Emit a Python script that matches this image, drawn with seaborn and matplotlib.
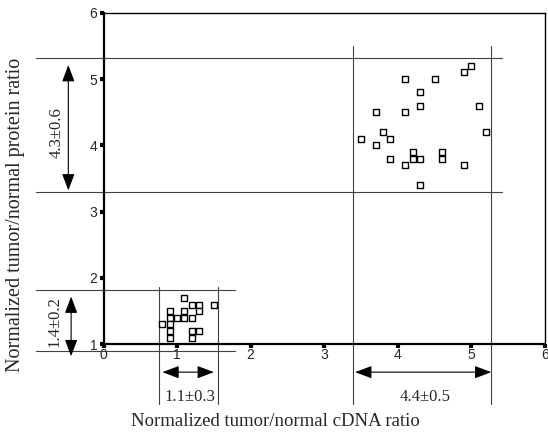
import matplotlib
matplotlib.use("Agg")
import matplotlib.pyplot as plt
import seaborn as sns
import pandas as pd

# ---- data ----
low_x = [1.1, 1.2, 1.3, 1.5, 0.9, 1.1, 1.3, 0.9, 1.0, 1.1, 1.2, 0.8, 0.9, 0.9, 1.2, 1.3, 0.9, 1.2]
low_y = [1.7, 1.6, 1.6, 1.6, 1.5, 1.5, 1.5, 1.4, 1.4, 1.4, 1.4, 1.3, 1.3, 1.2, 1.2, 1.2, 1.1, 1.1]
high_x = [5.0, 4.9, 4.1, 4.5, 4.3, 4.3, 5.1, 3.7, 4.1, 3.8, 5.2, 3.5, 3.9, 3.7, 4.2, 4.6,
          3.9, 4.2, 4.3, 4.6, 4.1, 4.9, 4.3]
high_y = [5.2, 5.1, 5.0, 5.0, 4.8, 4.6, 4.6, 4.5, 4.5, 4.2, 4.2, 4.1, 4.1, 4.0, 3.9, 3.9,
          3.8, 3.8, 3.8, 3.8, 3.7, 3.7, 3.4]

x_ticks = [0, 1, 2, 3, 4, 5, 6]
y_ticks = [1, 2, 3, 4, 5, 6]

# range guide lines (data units)
high_h_lines = [5.32, 3.30]
low_h_lines = [1.82, 0.90]
low_v_lines = [0.76, 1.55]
high_v_lines = [3.39, 5.26]

labels_text = ["4.3\u00b10.6", "1.4\u00b10.2", "1.1\u00b10.3", "4.4\u00b10.5"]

df = pd.DataFrame({"x": low_x + high_x, "y": low_y + high_y})

sns.set_style("white")
plt.rcParams["font.family"] = ["Liberation Sans", "DejaVu Sans"]

fig = plt.figure(figsize=(5.48, 4.32), dpi=100)
ax = fig.add_axes([0.18887, 0.20301, 0.80566, 0.76759])

sns.scatterplot(data=df, x="x", y="y", marker="s", s=18, facecolor="white",
                edgecolor="black", linewidth=1.0, ax=ax, zorder=5)

ax.set_xlim(0, 6)
ax.set_ylim(1, 6)
ax.set_xticks(x_ticks)
ax.set_yticks(y_ticks)
ax.set_xticklabels([str(v) for v in x_ticks])
ax.set_yticklabels([str(v) for v in y_ticks])
ax.set_xlabel("")
ax.set_ylabel("")
ax.tick_params(axis="both", direction="out", length=3, width=3, color="black",
               labelsize=10, bottom=True, left=True)
ax.tick_params(axis="x", pad=0)
ax.tick_params(axis="y", pad=1.5)

for side in ["left", "bottom"]:
    ax.spines[side].set_linewidth(1.6)
    ax.spines[side].set_color("black")
for side in ["top", "right"]:
    ax.spines[side].set_visible(True)
    ax.spines[side].set_linewidth(1.0)
    ax.spines[side].set_color("black")

lc = "#404040"
for yv in high_h_lines:
    ax.plot([-0.92, 5.41], [yv, yv], color=lc, lw=0.8, clip_on=False, zorder=2)
for yv in low_h_lines:
    ax.plot([-0.92, 1.79], [yv, yv], color=lc, lw=0.8, clip_on=False, zorder=2)
for xv in low_v_lines:
    ax.plot([xv, xv], [0.10, 1.86], color=lc, lw=0.8, clip_on=False, zorder=2)
for xv in high_v_lines:
    ax.plot([xv, xv], [0.10, 5.50], color=lc, lw=0.8, clip_on=False, zorder=2)

aprops = dict(arrowstyle="<|-|>,head_length=0.85,head_width=0.32", mutation_scale=12,
              lw=0.8, color="black", shrinkA=0, shrinkB=0)
for (x0, y0), (x1, y1) in [((-0.478, 5.21), (-0.478, 3.32)),
                           ((-0.44, 1.72), (-0.44, 0.82)),
                           ((0.80, 0.58), (1.50, 0.58)),
                           ((3.42, 0.58), (5.27, 0.58))]:
    ax.annotate("", xy=(x1, y1), xytext=(x0, y0), arrowprops=aprops,
                annotation_clip=False)

serif = ["Liberation Serif", "DejaVu Serif"]
ax.text(-0.636, 4.19, labels_text[0], rotation=90, ha="center", va="center",
        fontsize=12, family=serif, clip_on=False)
ax.text(-0.668, 1.35, labels_text[1], rotation=90, ha="center", va="center",
        fontsize=12, family=serif, clip_on=False)
ax.text(1.18, 0.21, labels_text[2], ha="center", va="center",
        fontsize=12, family=serif, clip_on=False)
ax.text(4.37, 0.21, labels_text[3], ha="center", va="center",
        fontsize=12, family=serif, clip_on=False)

fig.text(275 / 548, 1 - 421 / 432, "Normalized tumor/normal cDNA ratio",
         ha="center", va="center", fontsize=13.5, family=serif)
fig.text(16 / 548, 1 - 215 / 432, "Normalized tumor/normal protein ratio",
         ha="center", va="center", rotation=90, fontsize=14.5, family=serif)

fig.savefig("out.png", dpi=100)
